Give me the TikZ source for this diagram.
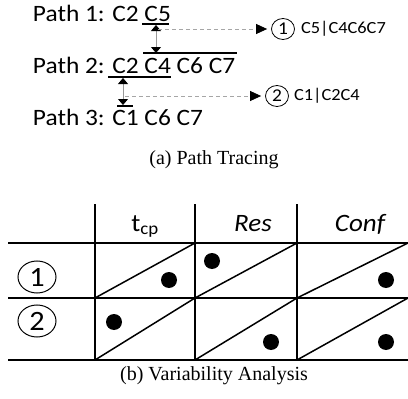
\documentclass[tikz,border=0pt]{standalone}
\usepackage{fontspec}
\setmainfont{Liberation Serif}
\newfontfamily\calfont[FakeStretch=1.08]{Carlito}
\usetikzlibrary{arrows.meta,shapes.geometric}
\begin{document}
\begin{tikzpicture}[x=1pt,y=-1pt,
  sx/.style={inner sep=0pt, outer sep=0pt},
  pathtxt/.style={sx, anchor=base west, font=\calfont\fontsize{23.5}{26}\selectfont},
  lbl/.style={sx, anchor=west, font=\calfont\fontsize{17}{20}\selectfont},
  circsmall/.style={ellipse, draw, line width=0.8pt, minimum width=23pt, minimum height=21pt, inner sep=0pt, font=\calfont\fontsize{18}{20}\selectfont},
  circbig/.style={ellipse, draw, line width=1pt, minimum width=38pt, minimum height=32pt, inner sep=0pt, font=\calfont\fontsize{28}{30}\selectfont},
  barline/.style={line width=1.2pt, black},
  dbl/.style={line width=0.8pt, gray!80, {Triangle[width=10pt,length=6pt,color=black]}-{Triangle[width=10pt,length=6pt,color=black]}},
  dasharr/.style={line width=0.8pt, gray!70, dash pattern=on 4pt off 3pt, -{Triangle[width=10pt,length=11pt,color=black]}},
  hdr/.style={sx, anchor=base, font=\calfont\fontsize{25}{27}\selectfont},
  gridline/.style={line width=2.2pt, black},
  diagline/.style={line width=1.5pt, black},
  dotnode/.style={circle, fill=black, minimum size=16pt, inner sep=0pt},
  captxt/.style={sx, font=\fontsize{20}{23}\selectfont}
]
\useasboundingbox (0,0) rectangle (408,399);

% --- Path tracing ---
\node[pathtxt] (p1) at (33,21) {Path 1: C2 C5};
\node[pathtxt] (p2) at (33,73) {Path 2: C2 C4 C6 C7};
\node[pathtxt] (p3) at (33,125) {Path 3: C1 C6 C7};

\draw[barline] (142,24) -- (169,24);
\draw[barline] (143,53) -- (237,53);
\draw[barline] (108,77) -- (171,77);
\draw[barline] (117,106) -- (133,106);

\coordinate (u1) at (156,25);
\coordinate (o1) at (156,53);
\coordinate (u2) at (123,78);
\coordinate (o2) at (123,105);
\draw[dbl] (u1) -- (o1);
\draw[dbl] (u2) -- (o2);

\coordinate (d1) at (158,29);
\coordinate (d2) at (125,96);
\node[circsmall] (n1) at (283,29) {1};
\node[circsmall] (n2) at (277,96) {2};
\node[lbl] (l1) at (301,29) {C5|C4C6C7};
\node[lbl] (l2) at (294,96) {C1|C2C4};
\draw[dasharr, shorten >=4pt] (d1) -- (d1 -| n1.west);
\draw[dasharr, shorten >=4pt] (d2) -- (d2 -| n2.west);

\node[captxt] (ca) at (214,160) {(a) Path Tracing};

% --- Variability table ---
\draw[gridline] (8,243) -- (408,243);
\draw[gridline] (8,298) -- (408,298);
\draw[gridline] (8,360) -- (408,360);
\draw[gridline] (95,204) -- (95,360);
\draw[gridline] (195,204) -- (195,360);
\draw[gridline] (297,204) -- (297,360);

\foreach \xl/\xr in {95/195,195/297,297/408}{
  \draw[diagline] (\xl,298) -- (\xr,243);
  \draw[diagline] (\xl,360) -- (\xr,298);
}

\node[hdr] (h1) at (145,231) {t\textsubscript{cp}};
\node[hdr] (h2) at (253,231) {\itshape Res};
\node[hdr] (h3) at (360,231) {\itshape Conf};

\node[circbig] (r1) at (37,277) {1};
\node[circbig] (r2) at (37,321) {2};

\node[dotnode] (a1) at (169,280) {};
\node[dotnode] (a2) at (212,261) {};
\node[dotnode] (a3) at (386,280) {};
\node[dotnode] (b1) at (114,322) {};
\node[dotnode] (b2) at (271,342) {};
\node[dotnode] (b3) at (386,342) {};

\node[captxt] (cb) at (214,376) {(b) Variability Analysis};
\end{tikzpicture}
\end{document}
